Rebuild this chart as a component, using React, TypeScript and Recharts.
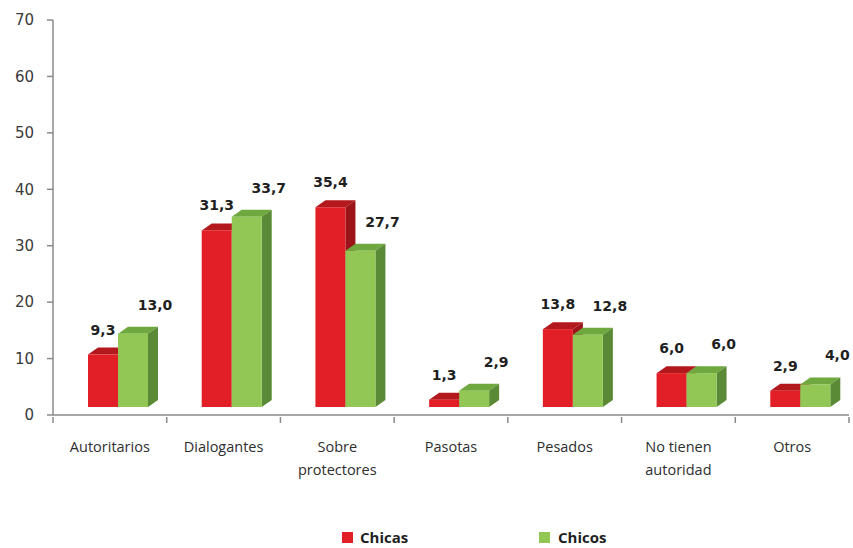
import React from 'react';
import {Bar, BarChart, LabelList, XAxis, YAxis} from 'recharts';

const categories = ['Autoritarios', 'Dialogantes', 'Sobre\nprotectores', 'Pasotas', 'Pesados', 'No tienen\nautoridad', 'Otros'];
const chicas = [9.3, 31.3, 35.4, 1.3, 13.8, 6.0, 2.9];
const chicos = [13.0, 33.7, 27.7, 2.9, 12.8, 6.0, 4.0];
const yTicks = [0, 10, 20, 30, 40, 50, 60, 70];

const data = categories.map((name, i) => ({name, chicas: chicas[i], chicos: chicos[i]}));

const RED = {front: '#E21F26', top: '#B3181D', side: '#9C1419'};
const GREEN = {front: '#92C755', top: '#6FA83F', side: '#5A8A35'};
const AXIS = '#8a8a8a';

const W = 853;
const H = 548;
const MARGIN = {top: 20, right: 4, left: 0, bottom: 73};
const Y_AXIS_W = 53;
const BAND = (W - Y_AXIS_W - MARGIN.right) / categories.length;

// fake 3d: front face pushed right/up, then top and side faces
const SHIFT = 8;
const LIFT = 8;
const DX = 10;
const DY = 7;

const make3D = (c: typeof RED) => (props: any) => {
    const {x, y, width, height} = props;
    const fx = x + SHIFT;
    const top = y - LIFT;
    const bottom = y + height - LIFT;
    const r = fx + width;
    return (
        <g>
            <polygon
                points={`${fx},${top} ${fx + DX},${top - DY} ${r + DX},${top - DY} ${r},${top}`}
                fill={c.top}
            />
            <polygon
                points={`${r},${top} ${r + DX},${top - DY} ${r + DX},${bottom - DY} ${r},${bottom}`}
                fill={c.side}
            />
            <rect x={fx} y={top} width={width} height={Math.max(bottom - top, 0)} fill={c.front}/>
        </g>
    );
};

const fmt = (v: number) => v.toFixed(1).replace('.', ',');

const makeLabel = (dx: number, up: number) => (props: any) => {
    const {x, y, width, value} = props;
    return (
        <text
            x={x + SHIFT + width / 2 + dx}
            y={y - LIFT - up}
            textAnchor="middle"
            dominantBaseline="middle"
            fontFamily="DejaVu Sans"
            fontWeight="bold"
            fontSize={14}
            fill="#1f1f1f"
        >
            {fmt(value)}
        </text>
    );
};

// category labels + tick marks on the category boundaries
const CategoryTick = (props: any) => {
    const {x, y, payload, index} = props;
    const lines = String(payload.value).split('\n');
    const left = x - BAND / 2;
    const right = x + BAND / 2;
    return (
        <g>
            <line x1={left} y1={y} x2={left} y2={y + 6} stroke={AXIS} strokeWidth={1.5}/>
            {index === categories.length - 1 &&
                <line x1={right} y1={y} x2={right} y2={y + 6} stroke={AXIS} strokeWidth={1.5}/>}
            <text x={x} y={y + 35} textAnchor="middle" fontFamily="Open Sans" fontSize={14.5} fill="#2e2e2e">
                {lines.map((l, i) => (
                    <tspan key={i} x={x} dy={i === 0 ? 0 : 23}>{l}</tspan>
                ))}
            </text>
        </g>
    );
};

const App = () => {
    return (
        <div style={{position: 'absolute', left: 0, top: 0, width: W, height: H, background: '#fff'}}>
            <BarChart
                width={W}
                height={H}
                data={data}
                margin={MARGIN}
                barSize={30}
                barGap={0}
            >
                <XAxis
                    dataKey="name"
                    height={60}
                    axisLine={{stroke: AXIS, strokeWidth: 1.5}}
                    tickLine={false}
                    tickSize={0}
                    interval={0}
                    tick={<CategoryTick/>}
                />
                <YAxis
                    width={Y_AXIS_W}
                    domain={[0, 70]}
                    ticks={yTicks}
                    axisLine={{stroke: AXIS, strokeWidth: 1.5}}
                    tickLine={{stroke: AXIS, strokeWidth: 1.5}}
                    tickSize={6}
                    tickMargin={13}
                    tick={{fill: '#3a3a3a', fontFamily: 'DejaVu Sans', fontSize: 15}}
                />
                <Bar dataKey="chicas" shape={make3D(RED)} isAnimationActive={false}>
                    <LabelList dataKey="chicas" content={makeLabel(0, 24)}/>
                </Bar>
                <Bar dataKey="chicos" shape={make3D(GREEN)} isAnimationActive={false}>
                    <LabelList dataKey="chicos" content={makeLabel(22, 28)}/>
                </Bar>
            </BarChart>
            <div style={{
                position: 'absolute', top: 527, left: 342, display: 'flex', alignItems: 'center',
                fontFamily: 'Open Sans', fontWeight: 'bold', fontSize: 15, color: '#1f1f1f'
            }}>
                <span style={{width: 11, height: 11, background: RED.front, display: 'inline-block', marginRight: 7}}/>
                <span style={{width: 179}}>Chicas</span>
                <span style={{width: 11, height: 11, background: GREEN.front, display: 'inline-block', marginRight: 8}}/>
                <span>Chicos</span>
            </div>
        </div>
    );
};

export default App;
